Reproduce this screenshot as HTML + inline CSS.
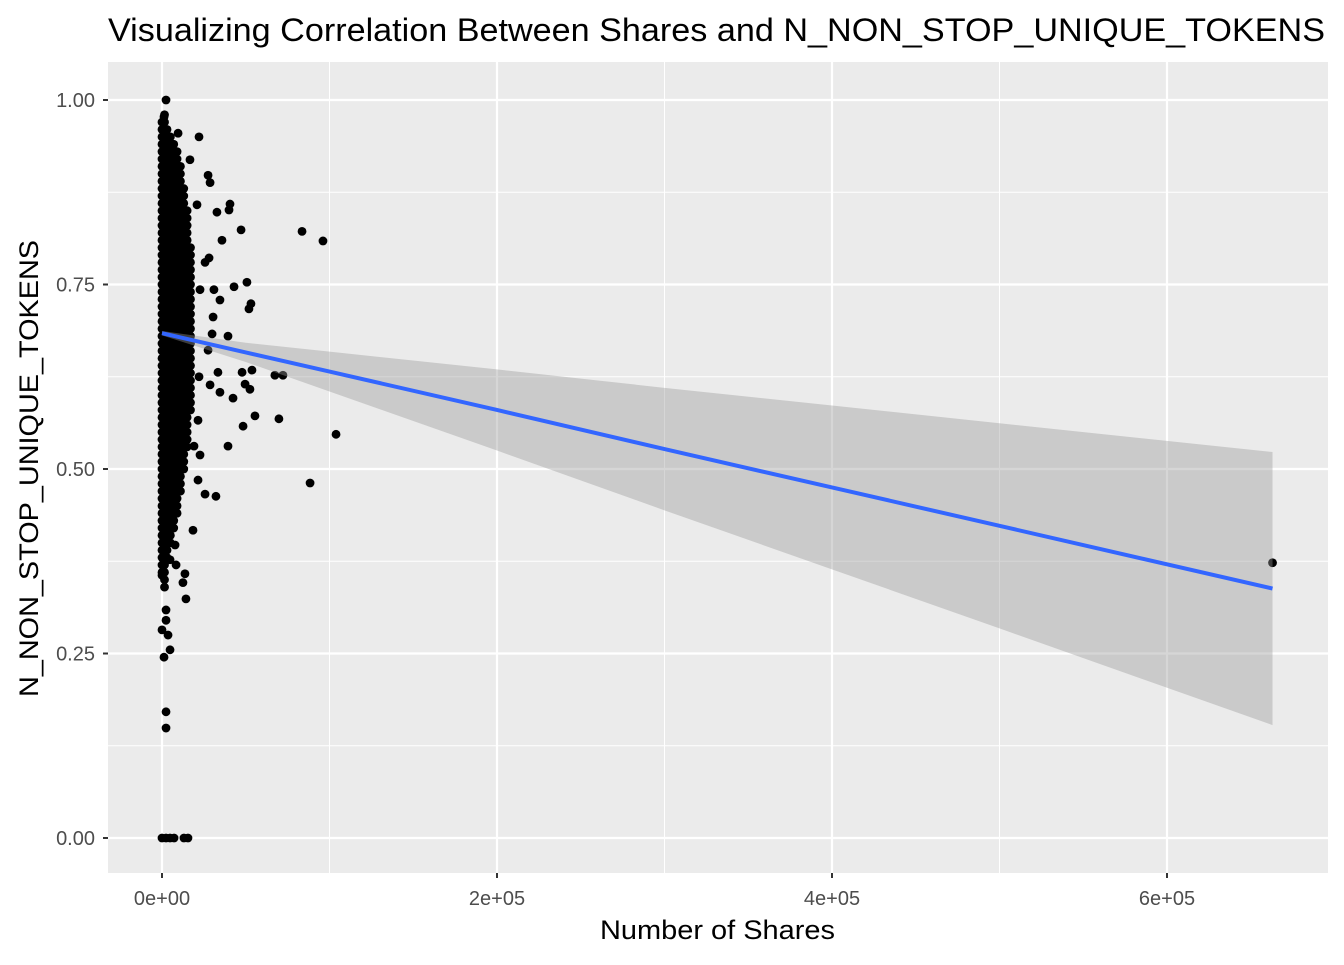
<!DOCTYPE html>
<html><head><meta charset="utf-8"><style>
body{margin:0;background:#fff;}
svg text{font-family:"Liberation Sans",Arial,sans-serif;}
</style></head><body>
<svg id="chart" width="1344" height="960" xmlns="http://www.w3.org/2000/svg">
<rect width="1344" height="960" fill="#fff"/>
<text x="108" y="41" font-size="32" fill="#000" textLength="1217" lengthAdjust="spacingAndGlyphs">Visualizing Correlation Between Shares and N_NON_STOP_UNIQUE_TOKENS</text>
<g id="panel"></g>
<text x="600" y="939" font-size="27" textLength="235" lengthAdjust="spacingAndGlyphs">Number of Shares</text>
<text transform="translate(38,697) rotate(-90)" font-size="27" textLength="457" lengthAdjust="spacingAndGlyphs">N_NON_STOP_UNIQUE_TOKENS</text>
</svg>
<script>
const xTicks=[0,200000,400000,600000];
const xTickLabels=["0e+00","2e+05","4e+05","6e+05"];
const yTicks=[0,0.25,0.5,0.75,1];
const yTickLabels=["0.00","0.25","0.50","0.75","1.00"];
const outShares=[663000,83600,96100,103900,88400,69800,72200,67400,55500,53700,52500,49600,48400,39400,42400,47800,50700,53100,51900,47200,43000,40600,40000,32800,39400,35800,30500,29900,27500,28700,22100,20900,25700,32200,19100,14300,13700,12500,18500,16700,9600,33400,34600,28100,25700,22700,31000,34600,27500,22100,28700,21500,22700,21500,2400,1200,2400,2400,1200,4800,2400,2400,0,3600,0,4800,7800,8400,0,2400,4800,7200,13100,15500];
const outValues=[0.373,0.822,0.809,0.547,0.481,0.568,0.627,0.627,0.572,0.634,0.608,0.615,0.558,0.531,0.596,0.631,0.753,0.724,0.717,0.824,0.747,0.859,0.851,0.848,0.680,0.810,0.706,0.683,0.898,0.888,0.950,0.858,0.466,0.463,0.531,0.324,0.358,0.346,0.417,0.919,0.955,0.631,0.604,0.786,0.780,0.743,0.743,0.729,0.661,0.625,0.614,0.566,0.519,0.485,1.000,0.977,0.171,0.149,0.245,0.255,0.309,0.295,0.282,0.275,0.356,0.377,0.397,0.370,0,0,0,0,0,0];
const coreShares=[0,1500,3000,5000,7000,9000,11000,13000,15000,17000];
const coreLow=[0.36,0.34,0.38,0.40,0.42,0.44,0.47,0.50,0.53,0.58];
const coreHigh=[0.97,0.98,0.96,0.95,0.94,0.93,0.91,0.88,0.85,0.80];
const coreLevels=[0.34,0.35,0.36,0.37,0.38,0.39,0.40,0.41,0.42,0.43,0.44,0.45,0.46,0.47,0.48,0.49,0.50,0.51,0.52,0.53,0.54,0.55,0.56,0.57,0.58,0.59,0.60,0.61,0.62,0.63,0.64,0.65,0.66,0.67,0.68,0.69,0.70,0.71,0.72,0.73,0.74,0.75,0.76,0.77,0.78,0.79,0.80,0.81,0.82,0.83,0.84,0.85,0.86,0.87,0.88,0.89,0.90,0.91,0.92,0.93,0.94,0.95,0.96,0.97,0.98];
const bandShares=[0,50000,100000,200000,300000,400000,500000,663000];
const fitValues=[0.684,0.658,0.632,0.580,0.527,0.475,0.423,0.338];
const bandUpper=[0.687,0.671,0.659,0.635,0.610,0.586,0.562,0.523];
const bandLower=[0.681,0.645,0.605,0.525,0.444,0.364,0.284,0.153];

const NS="http://www.w3.org/2000/svg";
const X=v=>162+v*335/200000;
const Y=v=>838-v*738;
const P={l:108,r:1328,t:62,b:873};
const g=document.getElementById('panel');
function mk(t,a){const e=document.createElementNS(NS,t);for(const k in a)e.setAttribute(k,a[k]);g.appendChild(e);return e;}
let e=mk('rect',{x:P.l,y:P.t,width:P.r-P.l,height:P.b-P.t,fill:'#ebebeb'});


for(let i=0;i<xTicks.length;i++){const m=xTicks[i]+100000;const px=X(m);if(px<P.r){e=mk('line',{x1:px,x2:px,y1:P.t,y2:P.b,stroke:'#fff','stroke-width':1});}}
for(let i=0;i<yTicks.length-1;i++){const py=Y(yTicks[i]+0.125);e=mk('line',{x1:P.l,x2:P.r,y1:py,y2:py,stroke:'#fff','stroke-width':1});}
xTicks.forEach((t,i)=>{const px=X(t);
e=mk('line',{x1:px,x2:px,y1:P.t,y2:P.b,stroke:'#fff','stroke-width':2.2});
e=mk('line',{x1:px,x2:px,y1:P.b,y2:P.b+5,stroke:'#333','stroke-width':2});
e=mk('text',{x:px,y:P.b+32,'font-size':20,fill:'#4d4d4d','text-anchor':'middle'});e.textContent=xTickLabels[i];});
yTicks.forEach((t,i)=>{const py=Y(t);
e=mk('line',{x1:P.l,x2:P.r,y1:py,y2:py,stroke:'#fff','stroke-width':2.2});
e=mk('line',{x1:P.l-5,x2:P.l,y1:py,y2:py,stroke:'#333','stroke-width':2});
e=mk('text',{x:P.l-13,y:py+7,'font-size':20,fill:'#4d4d4d','text-anchor':'end'});e.textContent=yTickLabels[i];});
function pt(s,v){const c=mk('circle',{cx:X(s),cy:Y(v),r:4.4,fill:'#000'});

}
coreShares.forEach((s,i)=>{coreLevels.forEach(v=>{if(v>=coreLow[i]-1e-9&&v<=coreHigh[i]+1e-9)pt(s,v);});});
outShares.forEach((s,i)=>pt(s,outValues[i]));
let d='M'+bandShares.map((s,i)=>X(s)+','+Y(bandUpper[i])).join('L');
for(let i=bandShares.length-1;i>=0;i--)d+='L'+X(bandShares[i])+','+Y(bandLower[i]);
e=mk('path',{d:d+'Z',fill:'#999','fill-opacity':0.4});


e=mk('polyline',{points:bandShares.map((s,i)=>X(s)+','+Y(fitValues[i])).join(' '),fill:'none',stroke:'#3366ff','stroke-width':4});


</script>
</body></html>
